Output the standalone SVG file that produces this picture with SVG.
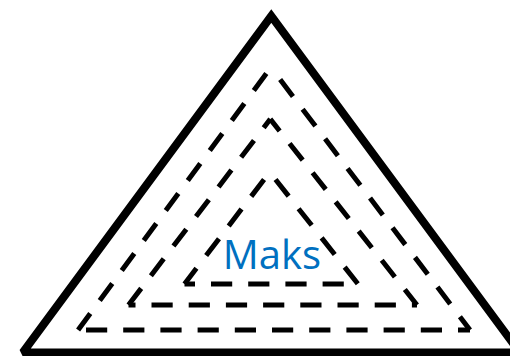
<svg xmlns="http://www.w3.org/2000/svg" width="510" height="356" viewBox="0 0 510 356">
  <style>
    .outer { fill: none; stroke: #000; stroke-width: 8; stroke-linejoin: miter; stroke-miterlimit: 2; }
    .dash { fill: none; stroke: #000; stroke-width: 5; stroke-dasharray: 21.2 16; stroke-linecap: butt; }
    .label { font-family: "Open Sans", "Liberation Sans", sans-serif; font-size: 40px; fill: #0070C0; }
  </style>
  <rect width="510" height="356" fill="#fff"/>
  <g id="outer-triangle">
    <path class="outer" d="M271.3,16 L22.8,352.5 L519.8,352.5 Z"/>
  </g>
  <g id="dashed-triangle-1">
    <line class="dash" x1="270.9" y1="67.3" x2="78.1" y2="330" stroke-dashoffset="29.5"/>
    <line class="dash" x1="78.1" y1="330" x2="470" y2="330" stroke-dashoffset="29.3"/>
    <line class="dash" x1="270.9" y1="67.3" x2="470" y2="330" stroke-dashoffset="21.9"/>
  </g>
  <g id="dashed-triangle-2">
    <line class="dash" x1="270.3" y1="119.1" x2="128.5" y2="305" stroke-dashoffset="10.3"/>
    <line class="dash" x1="128.5" y1="305" x2="417" y2="305" stroke-dashoffset="14.2"/>
    <line class="dash" x1="270.3" y1="119.1" x2="417" y2="305" stroke-dashoffset="6.1"/>
  </g>
  <g id="dashed-triangle-3">
    <line class="dash" x1="269.7" y1="172.1" x2="184.5" y2="284" stroke-dashoffset="27.9"/>
    <line class="dash" x1="184.5" y1="284" x2="358" y2="284" stroke-dashoffset="10.7"/>
    <line class="dash" x1="269.7" y1="172.1" x2="358" y2="284" stroke-dashoffset="27.8"/>
  </g>
  <g id="label">
    <text class="label" x="272" y="269" text-anchor="middle">Maks</text>
  </g>
</svg>
